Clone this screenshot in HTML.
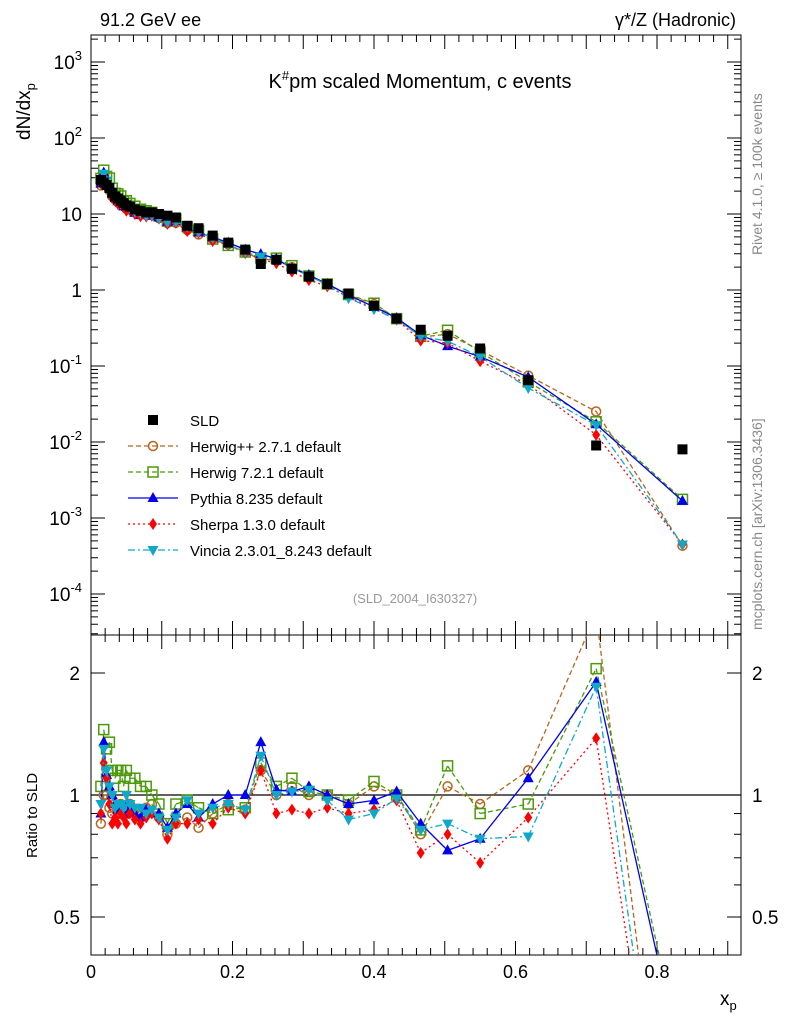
<!DOCTYPE html>
<html><head><meta charset="utf-8"><style>
html,body{margin:0;padding:0;background:#fff;overflow:hidden;width:786px;height:1024px}
svg{display:block}
svg text{font-family:"Liberation Sans",sans-serif}
</style></head><body>
<svg id="c" width="786" height="1024" xmlns="http://www.w3.org/2000/svg">
<defs>
<clipPath id="cm"><rect x="91" y="35" width="650" height="600"/></clipPath>
<clipPath id="cr"><rect x="91" y="635" width="650" height="320"/></clipPath>
</defs>
<rect x="91" y="35" width="650" height="600" fill="none" stroke="#000"/>
<rect x="91" y="635" width="650" height="320" fill="none" stroke="#000"/>
<text x="100" y="26" font-size="18">91.2 GeV ee</text>
<text x="736" y="26" font-size="18" text-anchor="end">γ*/Z (Hadronic)</text>
<text x="420" y="88" font-size="20" text-anchor="middle">K<tspan dy="-8" font-size="13">#</tspan><tspan dy="8">pm scaled Momentum, c events</tspan></text>
<text x="415" y="603" font-size="13" fill="#999" text-anchor="middle">(SLD_2004_I630327)</text>
<text transform="translate(762,255) rotate(-90)" font-size="14" fill="#888">Rivet 4.1.0, ≥ 100k events</text>
<text transform="translate(762,630) rotate(-90)" font-size="14" fill="#888">mcplots.cern.ch [arXiv:1306.3436]</text>
<text transform="translate(30,140) rotate(-90)" font-size="19">dN/dx<tspan dy="5" font-size="13">p</tspan></text>
<text transform="translate(37,858) rotate(-90)" font-size="15">Ratio to SLD</text>
<text x="720" y="1005" font-size="19">x<tspan dy="5" font-size="13">p</tspan></text>
<g id="ax"></g>
<g id="series"></g>
<g id="legend"></g>
</svg>
<script>
const xp=[0.014,0.018,0.022,0.026,0.030,0.034,0.038,0.042,0.046,0.050,0.055,0.062,0.070,0.078,0.086,0.096,0.108,0.120,0.136,0.152,0.172,0.194,0.218,0.240,0.262,0.284,0.308,0.334,0.364,0.400,0.432,0.466,0.504,0.550,0.618,0.714,0.836];
const sld=[28,26,24,22,19,17,16,15,14,13,12.5,11.5,11,10.5,10.5,10,9.5,9,7,6.5,5.2,4.2,3.4,2.2,2.5,1.9,1.5,1.2,0.9,0.62,0.42,0.3,0.25,0.17,0.065,0.009,0.008];
const rHerwigPP=[0.85,1.0,1.0,0.93,0.9,0.95,0.9,0.95,0.92,0.9,0.95,0.92,0.9,0.93,0.95,0.88,0.8,0.85,0.88,0.83,0.9,0.95,0.92,1.15,1.0,1.05,1.0,1.0,0.95,1.05,1.0,0.8,1.05,0.95,1.15,2.8,0.054];
const rHerwig7=[1.05,1.45,1.3,1.35,1.15,1.1,1.15,1.15,1.05,1.15,1.1,1.1,1.05,1.05,1.0,0.95,0.85,0.95,0.97,0.93,0.9,0.92,0.93,1.2,1.05,1.1,1.02,1.0,0.97,1.08,1.0,0.82,1.18,0.9,0.95,2.05,0.22];
const rPythia=[0.9,1.35,1.12,1.05,1.0,0.95,0.92,0.93,0.9,0.95,0.92,0.9,0.88,0.92,0.9,0.9,0.83,0.9,0.95,0.88,0.95,1.0,1.0,1.35,1.03,1.02,1.05,1.0,0.95,0.97,1.02,0.85,0.73,0.78,1.1,1.9,0.21];
const rSherpa=[0.9,1.2,1.1,0.95,0.85,0.88,0.85,0.9,0.88,0.85,0.9,0.87,0.85,0.88,0.9,0.87,0.78,0.85,0.85,0.87,0.85,0.93,0.9,1.15,0.9,0.92,0.9,0.93,0.9,0.92,0.97,0.72,0.8,0.68,0.88,1.38,0.056];
const rVincia=[0.95,1.3,1.15,1.05,1.0,0.93,0.95,0.95,0.93,1.0,0.95,0.93,0.93,0.9,0.92,0.88,0.82,0.88,0.97,0.9,0.93,0.95,0.92,1.25,1.0,1.02,1.03,0.97,0.87,0.9,0.98,0.82,0.85,0.78,0.79,1.85,0.056];
const xTicks=[0,0.2,0.4,0.6,0.8];
const yTickExp=[-4,-3,-2,-1,0,1,2,3];
const rTicks=[0.5,1,2];

const NS="http://www.w3.org/2000/svg";
const X=v=>91+v*707.5;
const Y=v=>290-76*Math.log10(v);
const R=v=>795-122*Math.log2(v);
const RTOP=635,RBOT=955;
function mk(t,a,p){const e=document.createElementNS(NS,t);for(const k in a)e.setAttribute(k,a[k]);p.appendChild(e);return e;}
const ax=document.getElementById('ax');
for(let i=0;i<=45;i++){const v=i*0.02;const x=X(v);if(x>741)break;const L=(i%5==0)?14:7;
 for(const [b,d] of [[635,-1],[955,-1],[35,1],[635,1]]){const l=mk('line',{x1:x,x2:x,y1:b,y2:b+d*L,stroke:'#000'},ax);}}
xTicks.forEach(v=>{const t=mk('text',{x:X(v),y:978,'font-size':18,'text-anchor':'middle'},ax);t.textContent=String(v);});
for(let e=-5;e<=3;e++)for(let m=1;m<10;m++){const v=m*Math.pow(10,e);const y=Y(v);if(y<35||y>635)continue;const L=m==1?14:7;
 for(const [x0,d] of [[91,1],[741,-1]]){const l=mk('line',{x1:x0,x2:x0+d*L,y1:y,y2:y,stroke:'#000'},ax);}}
yTickExp.forEach(e=>{const t=mk('text',{x:82,y:Y(Math.pow(10,e))+7,'font-size':19,'text-anchor':'end'},ax);
 if(e==0)t.textContent='1';else if(e==1)t.textContent='10';else{t.textContent='10';const s=mk('tspan',{dy:-9,'font-size':13},t);s.textContent=String(e);}
 });
[0.5,0.6,0.7,0.8,0.9,1,2].forEach(v=>{const y=R(v);const L=(v==0.5||v==1||v==2)?14:7;
 for(const [x0,d] of [[91,1],[741,-1]]){const l=mk('line',{x1:x0,x2:x0+d*L,y1:y,y2:y,stroke:'#000'},ax);}});
rTicks.forEach(v=>{for(const [x,a] of [[80,'end'],[752,'start']]){const t=mk('text',{x:x,y:R(v)+7,'font-size':19,'text-anchor':a},ax);t.textContent=String(v);}});
const one=mk('line',{x1:91,x2:741,y1:R(1),y2:R(1),stroke:'#000','stroke-width':1.3},ax);

// clip a polyline to y in [RTOP,RBOT], returning list of segments
function clipSegs(pts){
 const segs=[];
 for(let i=0;i<pts.length-1;i++){
  let [x1,y1]=pts[i],[x2,y2]=pts[i+1];
  let t0=0,t1=1;const dy=y2-y1;
  if(dy===0){if(y1<RTOP||y1>RBOT)continue;}
  else{
   let ta=(RTOP-y1)/dy,tb=(RBOT-y1)/dy;if(ta>tb)[ta,tb]=[tb,ta];
   t0=Math.max(0,ta);t1=Math.min(1,tb);if(t0>=t1)continue;
  }
  segs.push([x1+(x2-x1)*t0,y1+dy*t0,x1+(x2-x1)*t1,y1+dy*t1]);
 }
 return segs;
}

const series=[
 {n:'herwigpp',r:rHerwigPP,c:'#b5651d',d:'5,3',m:'circle',label:'Herwig++ 2.7.1 default'},
 {n:'herwig7',r:rHerwig7,c:'#4a9a0a',d:'5,3',m:'osquare',label:'Herwig 7.2.1 default'},
 {n:'pythia',r:rPythia,c:'#0000ee',d:'',m:'tri',label:'Pythia 8.235 default'},
 {n:'sherpa',r:rSherpa,c:'#ff0000',d:'2,3',m:'diamond',label:'Sherpa 1.3.0 default'},
 {n:'vincia',r:rVincia,c:'#10a8c8',d:'7,3,2,3',m:'tridown',label:'Vincia 2.3.01_8.243 default'}];
function marker(type,x,y,c,g){
 if(type=='circle')return mk('circle',{cx:x,cy:y,r:4.5,fill:'none',stroke:c,'stroke-width':1.5},g);
 if(type=='osquare')return mk('rect',{x:x-5,y:y-5,width:10,height:10,fill:'none',stroke:c,'stroke-width':1.5},g);
 if(type=='square')return mk('rect',{x:x-5,y:y-5,width:10,height:10,fill:c},g);
 if(type=='tri')return mk('polygon',{points:`${x},${y-6} ${x-5.5},${y+4} ${x+5.5},${y+4}`,fill:c},g);
 if(type=='tridown')return mk('polygon',{points:`${x},${y+6} ${x-5.5},${y-4} ${x+5.5},${y-4}`,fill:c},g);
 if(type=='diamond')return mk('polygon',{points:`${x},${y-6} ${x-4},${y} ${x},${y+6} ${x+4},${y}`,fill:c},g);
}
const sg=document.getElementById('series');
const gm=mk('g',{'clip-path':'url(#cm)'},sg);
const gr=mk('g',{'clip-path':'url(#cr)'},sg);
series.forEach(s=>{
 const vals=s.r.map((r,i)=>r*sld[i]);
 const p1=mk('polyline',{points:vals.map((v,i)=>X(xp[i])+','+Y(v)).join(' '),fill:'none',stroke:s.c,'stroke-width':1.3,'stroke-dasharray':s.d},gm);
 
 vals.forEach((v,i)=>{const m=marker(s.m,X(xp[i]),Y(v),s.c,gm);});
 const pts=s.r.map((v,i)=>[X(xp[i]),R(v)]);
 const d=clipSegs(pts).map(q=>`M${q[0]},${q[1]}L${q[2]},${q[3]}`).join('');
 const p2=mk('path',{d:d,fill:'none',stroke:s.c,'stroke-width':1.3,'stroke-dasharray':s.d},gr);
 
 pts.forEach(p=>{if(p[1]<RTOP||p[1]>RBOT)return;const m=marker(s.m,p[0],p[1],s.c,gr);});
});
sld.forEach((v,i)=>{const m=marker('square',X(xp[i]),Y(v),'#000',gm);});
const lg=document.getElementById('legend');
const ents=[{m:'square',c:'#000',d:null,label:'SLD'}].concat(series);
ents.forEach((s,k)=>{const y=420+k*26;const g=mk('g',{},lg);
 if(s.d!==null){mk('line',{x1:128,x2:178,y1:y,y2:y,stroke:s.c,'stroke-width':1.3,'stroke-dasharray':s.d},g);}
 marker(s.m,153,y,s.c,g);
 const t=mk('text',{x:190,y:y+6,'font-size':15},g);t.textContent=s.label;});
</script>
</body></html>
